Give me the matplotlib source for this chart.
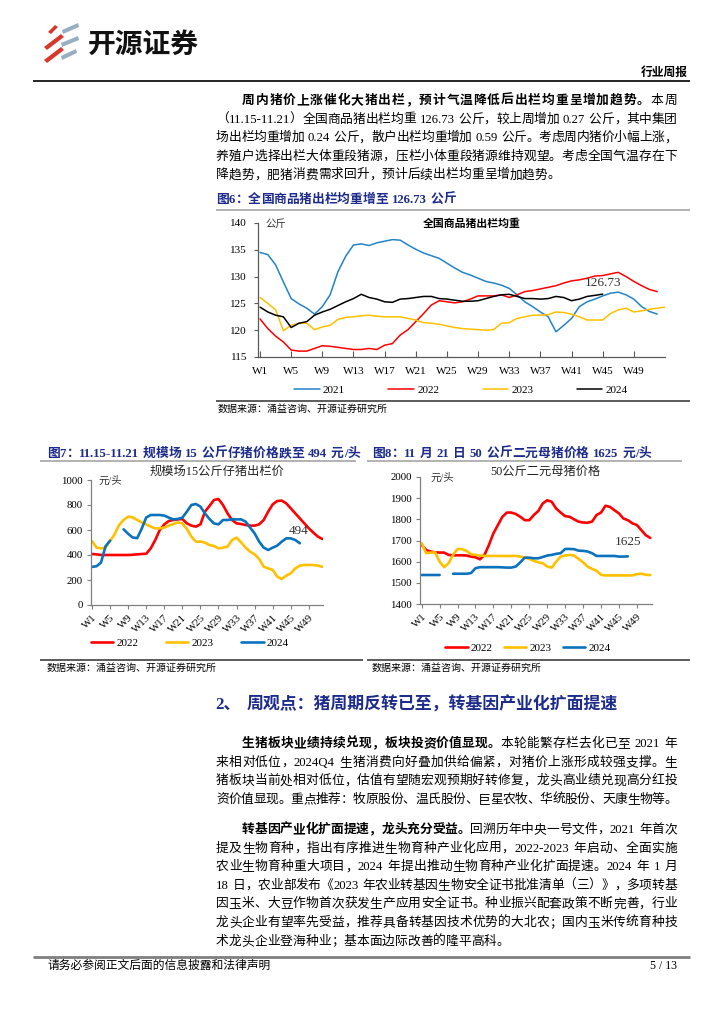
import matplotlib
matplotlib.use("Agg")
import matplotlib.pyplot as plt
import numpy as np
from matplotlib.patches import Polygon

plt.rcParams["font.family"] = ["Liberation Serif", "Noto Sans CJK SC"]
plt.rcParams["axes.unicode_minus"] = False

# ---------------- data ----------------
week_ticks = list(range(1, 50, 4))
week_labels = [f"W{w}" for w in week_ticks]

# Fig 6: average slaughter weight (kg)
wt_2021 = [134.5, 134.1, 132.2, 129.0, 125.9, 124.9, 124.1, 123.0, 124.4, 126.6,
           130.9, 133.8, 135.9, 136.1, 135.8, 136.3, 136.6, 136.9, 136.8, 135.9,
           135.1, 134.4, 133.9, 133.4, 132.5, 131.6, 130.8, 130.3, 129.7, 129.1,
           128.8, 128.4, 127.8, 126.6, 125.3, 124.4, 123.4, 122.5, 119.7, 120.9,
           122.2, 124.4, 125.3, 125.8, 126.4, 126.9, 127.1, 126.6, 125.8, 124.4,
           123.5, 123.0]
wt_2022 = [122.1, 120.3, 118.9, 117.8, 116.3, 116.1, 116.1, 116.6, 117.1, 117.0,
           116.8, 116.6, 116.4, 116.4, 116.6, 116.4, 117.2, 117.5, 119.1, 120.1,
           121.6, 123.1, 124.7, 125.5, 125.3, 125.1, 125.3, 125.8, 126.4, 126.4,
           126.4, 126.6, 126.1, 126.6, 127.2, 127.4, 127.7, 128.0, 128.3, 128.8,
           129.2, 129.4, 129.7, 130.1, 130.2, 130.5, 130.8, 130.0, 129.1, 128.3,
           127.6, 127.2]
wt_2023 = [126.1, 125.0, 123.8, 119.9, 120.9, 121.3, 121.3, 120.1, 120.6, 120.9,
           122.0, 122.4, 122.5, 122.7, 122.8, 122.6, 122.5, 122.5, 122.5, 122.2,
           121.9, 121.4, 121.3, 121.1, 120.8, 120.5, 120.3, 120.2, 120.1, 120.0,
           120.1, 121.3, 121.4, 122.2, 122.5, 122.8, 122.8, 122.9, 123.4, 123.3,
           123.0, 122.5, 121.9, 121.9, 121.9, 123.1, 123.8, 124.1, 123.4, 123.6,
           123.9, 124.1, 124.3]
wt_2024 = [124.3, 123.4, 122.8, 122.5, 120.5, 121.3, 121.6, 122.8, 123.4, 123.9,
           124.6, 125.3, 125.9, 126.7, 126.1, 125.8, 125.3, 125.2, 125.8, 125.9,
           126.1, 126.3, 126.3, 125.9, 125.8, 125.6, 125.4, 125.4, 125.5, 125.9,
           126.3, 126.6, 126.7, 126.3, 125.9, 125.9, 125.8, 125.9, 126.3, 126.1,
           125.5, 125.8, 126.3, 126.5, 126.73]

# Fig 7: 15kg piglet price (yuan/head)
nan = np.nan
piglet_2022 = [408, 405, 400, 400, 400, 400, 400, 400, 400, 402, 405, 408, 410,
               453, 520, 600, 645, 672, 680, 685, 688, 653, 635, 627, 645, 747,
               792, 840, 848, 800, 733, 680, 653, 648, 640, 635, 635, 645, 680,
               747, 805, 832, 835, 813, 773, 733, 693, 653, 613, 579, 547, 528]
piglet_2023 = [512, 459, 453, 459, 512, 565, 640, 680, 707, 701, 680, 661, 645,
               627, 613, 613, 619, 635, 648, 661, 653, 608, 547, 507, 507, 499,
               480, 472, 453, 459, 467, 520, 539, 501, 459, 427, 405, 368, 307,
               293, 280, 227, 208, 235, 253, 293, 315, 320, 320, 320, 315, 305]
piglet_2024 = [305, 310, 340, 470, 515, nan, nan, 605, 570, 540, 535, 610, 700,
               720, 720, 720, 715, 699, 685, 688, 699, 747, 800, 808, 787, 733,
               688, 653, 645, 680, 680, 685, 685, 685, 667, 619, 573, 507, 459,
               440, 459, 475, 507, 533, 533, 520, 494]

# Fig 8: 50kg binary sow price (yuan/head)
sow_2022 = [1679, 1655, 1648, 1644, 1643, 1643, 1632, 1630, 1630, 1630, 1629,
            1624, 1621, 1611, 1632, 1679, 1734, 1773, 1812, 1832, 1832, 1825,
            1812, 1796, 1796, 1820, 1839, 1875, 1890, 1883, 1851, 1832, 1815,
            1812, 1800, 1789, 1785, 1784, 1789, 1820, 1832, 1864, 1859, 1843,
            1828, 1804, 1796, 1781, 1773, 1749, 1725, 1712]
sow_2023 = [1687, 1640, 1643, 1644, 1600, 1574, 1593, 1632, 1660, 1659, 1651,
            1635, 1632, 1629, 1627, 1627, 1627, 1627, 1627, 1627, 1627, 1627,
            1624, 1619, 1613, 1604, 1597, 1593, 1577, 1572, 1600, 1624, 1629,
            1632, 1629, 1613, 1597, 1577, 1566, 1557, 1538, 1535, 1535, 1535,
            1535, 1535, 1535, 1535, 1541, 1543, 1538, 1537]
sow_2024 = [1537, 1537, 1537, 1537, 1537, nan, nan, 1543, 1543, 1543, 1543,
            1546, 1569, 1574, 1574, 1574, 1574, 1574, 1573, 1572, 1572, 1577,
            1597, 1619, 1619, 1616, 1616, 1622, 1629, 1632, 1637, 1640, 1660,
            1660, 1659, 1652, 1651, 1648, 1640, 1627, 1627, 1627, 1627, 1627,
            1624, 1624, 1625]

# ---------------- page ----------------
W, H = 724, 1024
NAVY = "#1C2B8C"
BLUE1 = "#2383C8"
BLUE = "#0B72BE"
RED = "#FF0000"
YEL = "#FFC000"

fig = plt.figure(figsize=(W / 100, H / 100), dpi=100)
page = fig.add_axes([0, 0, 1, 1], zorder=0)
page.set_xlim(0, W)
page.set_ylim(H, 0)
page.axis("off")
R = fig.canvas.get_renderer()


def box(x0, y0, x1, y1):
    return [x0 / W, 1 - y1 / H, (x1 - x0) / W, (y1 - y0) / H]


def hline(y, x0, x1, color="black", lw=1.0):
    page.plot([x0, x1], [y, y], color=color, lw=lw, solid_capstyle="butt")


def tokens_of(s):
    toks, buf = [], ""
    for ch in s:
        if ch == " ":
            if buf:
                toks.append(buf)
                buf = ""
            toks.append(" ")
        elif ord(ch) < 128:
            buf += ch
        else:
            if buf:
                toks.append(buf)
                buf = ""
            toks.append(ch)
    if buf:
        toks.append(buf)
    return toks


def write_line(y, x0, x1, segs, size=9.2, color="black", justify=True, space=4.0):
    items = []
    for s, bold in segs:
        for t in tokens_of(s):
            items.append((t, bold))
    arts, widths = [], []
    for t, bold in items:
        if t == " ":
            arts.append(None)
            widths.append(space)
            continue
        a = page.text(x0, y + 5, t, fontsize=size, color=color,
                      fontweight="bold" if bold else "normal",
                      ha="left", va="baseline")
        arts.append(a)
        widths.append(a.get_window_extent(R).width)
    gap = 0.0
    if justify and len(items) > 1:
        gap = (x1 - x0 - sum(widths)) / (len(items) - 1)
    x = x0
    for a, w in zip(arts, widths):
        if a is not None:
            a.set_x(x)
        x += w + gap


def paragraph(lines, y0, step=18.6, first_bold=None, last_full=False):
    for i, txt in enumerate(lines):
        y = y0 + i * step
        x0 = 242 if i == 0 else 216
        if i == 0 and first_bold:
            segs = [(first_bold, True), (txt, False)]
        else:
            segs = [(txt, False)]
        last = i == len(lines) - 1
        write_line(y, x0, 677, segs, justify=(not last) or last_full)


# logo
red_strokes = [[(48, 32), (55, 25), (58, 27), (51, 34)],
               [(44, 47), (61, 34), (64, 37), (47, 50)],
               [(44, 60), (61, 47), (64, 50), (47, 63)]]
grey_strokes = [[(62, 30), (78, 23), (79, 27), (63, 34)],
                [(61, 43), (78, 36), (79, 40), (62, 47)],
                [(61, 56), (76, 49), (77, 53), (62, 60)]]
for pts in red_strokes:
    page.add_patch(Polygon(pts, closed=True, color="#D8382C", lw=0))
for pts in grey_strokes:
    page.add_patch(Polygon(pts, closed=True, color="#98AFC2", lw=0))
page.text(88, 45, "开源证券", fontsize=20, fontweight="bold", color="#111111",
          family="Noto Sans CJK SC", ha="left", va="center")

page.text(688, 73, "行业周报", fontsize=8.5, fontweight="bold", ha="right", va="center")
hline(80.5, 33, 690, lw=1.2)

# paragraph 1
paragraph(["本周",
           "（11.15-11.21）全国商品猪出栏均重 126.73 公斤，较上周增加 0.27 公斤，其中集团",
           "场出栏均重增加 0.24 公斤，散户出栏均重增加 0.59 公斤。考虑周内猪价小幅上涨，",
           "养殖户选择出栏大体重段猪源，压栏小体重段猪源维持观望。考虑全国气温存在下",
           "降趋势，肥猪消费需求回升，预计后续出栏均重呈增加趋势。"],
          99, first_bold="周内猪价上涨催化大猪出栏，预计气温降低后出栏均重呈增加趋势。")

# figure titles, lines and sources
write_line(198, 216, 690, [("图6：全国商品猪出栏均重增至 126.73 公斤", True)],
           color=NAVY, justify=False)
hline(210, 216, 690, color="#A6A6A6", lw=1.2)
hline(401, 216, 690, color="#404040", lw=1.2)
page.text(218, 409, "数据来源：涌益咨询、开源证券研究所", fontsize=7.2, va="center")

write_line(452, 47, 360, [("图7：11.15-11.21 规模场 15 公斤仔猪价格跌至 494 元/头", True)],
           color=NAVY, justify=False)
write_line(452, 372, 690, [("图8：11 月 21 日 50 公斤二元母猪价格 1625 元/头", True)],
           color=NAVY, justify=False)
hline(461, 40, 356, color="#A6A6A6", lw=1.2)
hline(461, 367, 682, color="#A6A6A6", lw=1.2)
hline(660, 40, 363, color="#404040", lw=1.2)
hline(660, 367, 690, color="#404040", lw=1.2)
page.text(47, 668, "数据来源：涌益咨询、开源证券研究所", fontsize=7.2, va="center")
page.text(372, 668, "数据来源：涌益咨询、开源证券研究所", fontsize=7.2, va="center")

# section heading
page.text(215, 705, "2、", fontsize=12.2, fontweight="bold", color=NAVY, va="center")
page.text(247, 705, "周观点：猪周期反转已至，转基因产业化扩面提速", fontsize=12.2,
          fontweight="bold", color=NAVY, va="center")

paragraph(["本轮能繁存栏去化已至 2021 年",
           "来相对低位，2024Q4 生猪消费向好叠加供给偏紧，对猪价上涨形成较强支撑。生",
           "猪板块当前处相对低位，估值有望随宏观预期好转修复，龙头高业绩兑现高分红投",
           "资价值显现。重点推荐：牧原股份、温氏股份、巨星农牧、华统股份、天康生物等。"],
          742, first_bold="生猪板块业绩持续兑现，板块投资价值显现。", last_full=True)

paragraph(["回溯历年中央一号文件，2021 年首次",
           "提及生物育种，指出有序推进生物育种产业化应用，2022-2023 年启动、全面实施",
           "农业生物育种重大项目，2024 年提出推动生物育种产业化扩面提速。2024 年 1 月",
           "18 日，农业部发布《2023 年农业转基因生物安全证书批准清单（三）》，多项转基",
           "因玉米、大豆作物首次获发生产应用安全证书。种业振兴配套政策不断完善，行业",
           "龙头企业有望率先受益，推荐具备转基因技术优势的大北农；国内玉米传统育种技",
           "术龙头企业登海种业；基本面边际改善的隆平高科。"],
          828, first_bold="转基因产业化扩面提速，龙头充分受益。")

hline(957, 33, 690, color="#7F7F7F", lw=2.0)
page.text(48, 966, "请务必参阅正文后面的信息披露和法律声明", fontsize=8.5, va="center")
page.text(677, 966, "5 / 13", fontsize=8.5, ha="right", va="center")


# ---------------- charts ----------------
def style_axes(ax, spine_color="#808080"):
    ax.set_facecolor("none")
    for s in ["top", "right"]:
        ax.spines[s].set_visible(False)
    for s in ["left", "bottom"]:
        ax.spines[s].set_color(spine_color)
        ax.spines[s].set_linewidth(0.9)
    ax.tick_params(colors=spine_color, labelcolor="black", labelsize=8, width=0.8)


def plot_series(ax, series, colors, labels, lw):
    handles = []
    for vals, c, lab in zip(series, colors, labels):
        x = np.arange(1, len(vals) + 1)
        h, = ax.plot(x, vals, color=c, lw=lw, label=lab, solid_capstyle="round")
        handles.append(h)
    return handles


# Fig 6
ax1 = fig.add_axes(box(258, 223, 665, 357), zorder=2)
style_axes(ax1, "#595959")
h1 = plot_series(ax1, [wt_2021, wt_2022, wt_2023, wt_2024],
                 [BLUE1, RED, YEL, "black"], ["2021", "2022", "2023", "2024"], 1.1)
ax1.set_xlim(0.74, 53.0)
ax1.set_ylim(115, 140)
ax1.set_yticks(range(115, 141, 5))
ax1.set_xticks(week_ticks)
ax1.set_xticklabels(week_labels)
ax1.tick_params(axis="x", direction="in", length=4, pad=7)
ax1.tick_params(axis="y", direction="out", length=3, pad=5)
ax1.annotate("126.73", (len(wt_2024), wt_2024[-1]), xytext=(0, 11),
             textcoords="offset pixels", ha="center", va="center",
             fontsize=9.5, color="#333333")
page.text(265, 224, "公斤", fontsize=7.5, va="center", color="#333333")
page.text(472, 224, "全国商品猪出栏均重", fontsize=7.8, fontweight="bold",
          ha="center", va="center")
ax1.legend(handles=h1, loc="center", ncol=4, bbox_to_anchor=(461, 390),
           bbox_transform=page.transData, frameon=False, fontsize=8,
           handlelength=2.3, handletextpad=0.3, columnspacing=3.9)

# Fig 7
ax2 = fig.add_axes(box(91, 480, 323, 605), zorder=2)
style_axes(ax2)
h2 = plot_series(ax2, [piglet_2022, piglet_2023, piglet_2024],
                 [RED, YEL, BLUE], ["2022", "2023", "2024"], 1.9)
ax2.set_xlim(0.78, 52.13)
ax2.set_ylim(0, 1000)
ax2.set_yticks(range(0, 1001, 200))
ax2.set_xticks(week_ticks)
ax2.set_xticklabels(week_labels, rotation=45, ha="right", rotation_mode="anchor")
ax2.tick_params(axis="x", direction="out", length=3, pad=3, labelsize=7.8)
ax2.tick_params(axis="y", direction="out", length=3, pad=3, labelsize=7.8)
ax2.annotate("494", (len(piglet_2024), piglet_2024[-1]), xytext=(-1, 12),
             textcoords="offset pixels", ha="center", va="center",
             fontsize=9.5, color="#333333")
page.text(98, 481, "元/头", fontsize=7.5, va="center", color="#333333")
page.text(217, 472, "规模场15公斤仔猪出栏价", fontsize=8.8, ha="center",
          va="center", color="#222222")
ax2.legend(handles=h2, loc="center", ncol=3, bbox_to_anchor=(190, 643),
           bbox_transform=page.transData, frameon=False, fontsize=8,
           handlelength=2.0, handletextpad=0.3, columnspacing=2.5)

# Fig 8
ax3 = fig.add_axes(box(420, 477, 652, 604), zorder=2)
style_axes(ax3)
h3 = plot_series(ax3, [sow_2022, sow_2023, sow_2024],
                 [RED, YEL, BLUE], ["2022", "2023", "2024"], 1.9)
ax3.set_xlim(0.62, 52.38)
ax3.set_ylim(1400, 2000)
ax3.set_yticks(range(1400, 2001, 100))
ax3.set_xticks(week_ticks)
ax3.set_xticklabels(week_labels, rotation=45, ha="right", rotation_mode="anchor")
ax3.tick_params(axis="x", direction="out", length=3, pad=3, labelsize=7.8)
ax3.tick_params(axis="y", direction="out", length=3, pad=3, labelsize=7.8)
ax3.annotate("1625", (len(sow_2024), sow_2024[-1]), xytext=(0, 14),
             textcoords="offset pixels", ha="center", va="center",
             fontsize=9.5, color="#333333")
page.text(430, 478, "元/头", fontsize=7.5, va="center", color="#333333")
page.text(545, 472, "50公斤二元母猪价格", fontsize=8.8, ha="center",
          va="center", color="#222222")
ax3.legend(handles=h3, loc="center", ncol=3, bbox_to_anchor=(528, 648),
           bbox_transform=page.transData, frameon=False, fontsize=8,
           handlelength=2.0, handletextpad=0.3, columnspacing=1.0)

fig.savefig("out.png", dpi=100)
